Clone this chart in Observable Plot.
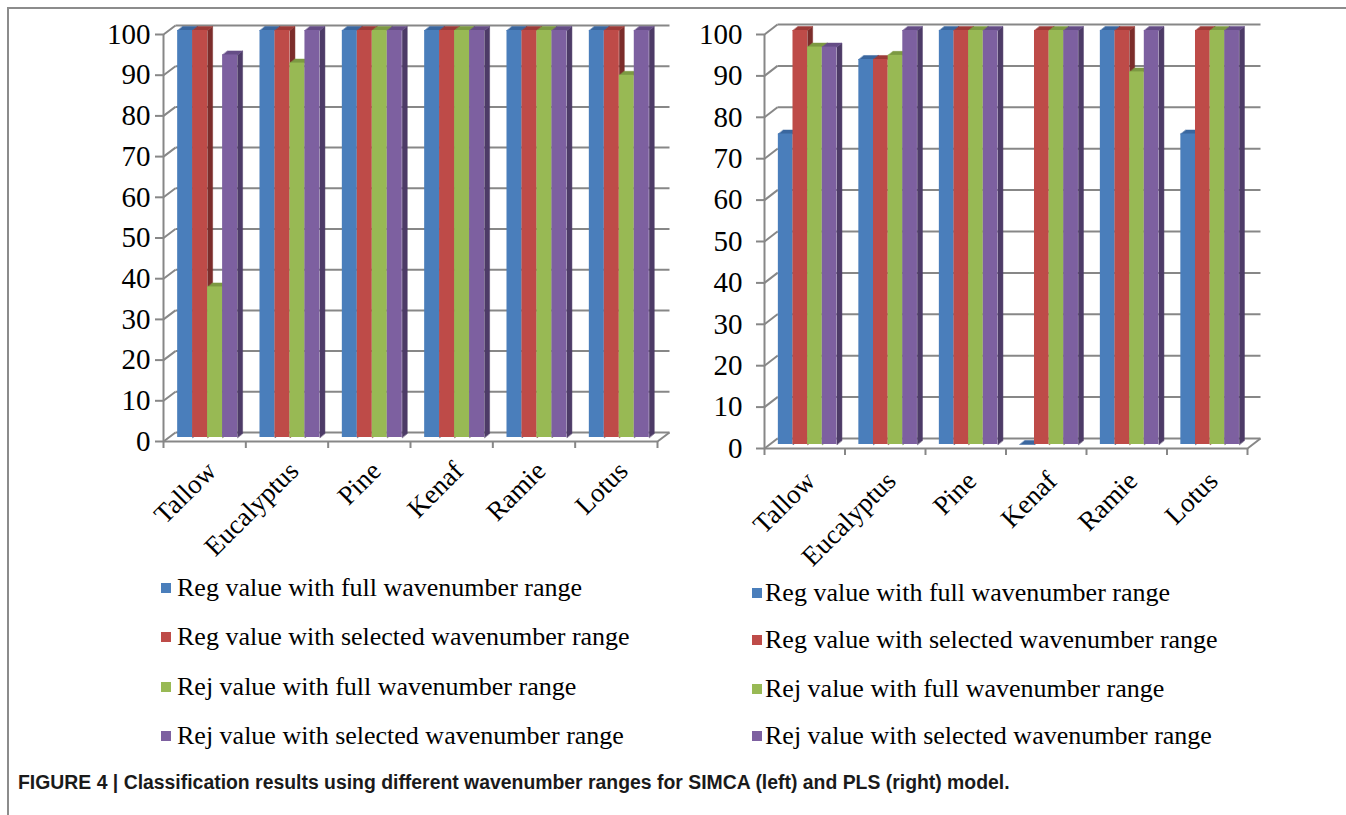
<!DOCTYPE html>
<html><head><meta charset="utf-8">
<script src="https://cdn.jsdelivr.net/npm/d3@7"></script>
<script src="https://cdn.jsdelivr.net/npm/@observablehq/plot@0.6"></script>
<style>
html,body{margin:0;padding:0;background:#fff;}
body{width:1346px;height:815px;overflow:hidden;position:relative;font-family:"Liberation Serif","Times New Roman",serif;}
#frame{position:absolute;left:7px;top:7px;width:1339px;height:808px;border-left:2px solid #8c8c8c;border-top:2px solid #8c8c8c;box-sizing:border-box;}
#left{position:absolute;left:0;top:0;}
#right{position:absolute;left:680px;top:0;}
.row{position:absolute;white-space:nowrap;display:flex;align-items:center;font-size:26px;line-height:26px;height:26px;color:#000;}
.sw{display:inline-block;width:10px;height:10px;margin-right:6px;}
#caption{position:absolute;left:18px;top:772px;font-family:"Liberation Sans",Arial,sans-serif;font-weight:bold;font-size:19.4px;line-height:20px;color:#1a1a1a;white-space:nowrap;}
svg [aria-label^="y-axis"] line, svg [aria-label^="y-axis"] path, svg [aria-label^="x-axis"] line, svg [aria-label^="x-axis"] path{stroke:#878787;stroke-width:2px;}
svg text{font-family:"Liberation Serif","Times New Roman",serif !important;}
svg [aria-label^="y-axis"] text{font-size:29px !important;fill:#000;}
</style>
</head><body>
<div id="frame"></div>
<div id="left"></div>
<div id="right"></div>
<div id="legendL"></div>
<div id="legendR"></div>
<div id="caption">FIGURE 4 | Classification results using different wavenumber ranges for SIMCA (left) and PLS (right) model.</div>
<script>
// ---- data ----
const categories = ["Tallow", "Eucalyptus", "Pine", "Kenaf", "Ramie", "Lotus"];
const seriesNames = [
  "Reg value with full wavenumber range",
  "Reg value with selected wavenumber range",
  "Rej value with full wavenumber range",
  "Rej value with selected wavenumber range"
];
// SIMCA (left)
const simcaRegFull = [100, 100, 100, 100, 100, 100];
const simcaRegSel  = [100, 100, 100, 100, 100, 100];
const simcaRejFull = [37, 92, 100, 100, 100, 89];
const simcaRejSel  = [94, 100, 100, 100, 100, 100];
// PLS (right)
const plsRegFull = [75, 93, 100, 0, 100, 75];
const plsRegSel  = [100, 93, 100, 100, 100, 100];
const plsRejFull = [96, 94, 100, 100, 90, 100];
const plsRejSel  = [96, 100, 100, 100, 100, 100];
const yTicks = [0, 10, 20, 30, 40, 50, 60, 70, 80, 90, 100];

// ---- styles ----
const frontColors = ["#4a7ebb", "#be4b48", "#98b954", "#7d60a0"];
const topColors   = ["#3a679f", "#9c3b38", "#7c9942", "#654d86"];
const sideColors  = ["#2c4f7c", "#7c2d2b", "#5d7532", "#4d3b67"];
const gridColor = "#878787";

function panel({width, height, ml, mr, mt, mb, wallX, wallY, series, labelDx, labelDy, tickPadding}) {
  const n = categories.length;
  const kx = (width - ml - mr) / n;      // px per category unit
  const ky = (height - mt - mb) / 100;   // px per value unit
  const wX = wallX / kx, wY = wallY / ky; // wall depth in data units
  const bX = 5 / kx, bY = 4 / ky;         // bar depth in data units
  const off = 0.172, bw = 0.182;
  const rows = [];
  categories.forEach((c, i) => series.forEach((vals, j) => {
    const x1 = i + off + j * bw;
    rows.push({cat: c, j, x1, x2: x1 + bw, v: vals[i]});
  }));
  const sides = [], tops = [];
  rows.forEach((r, k) => {
    const sc = sideColors[r.j], tc = topColors[r.j];
    sides.push({id: k, x: r.x2, y: 0, c: sc}, {id: k, x: r.x2, y: r.v, c: sc},
               {id: k, x: r.x2 + bX, y: r.v + bY, c: sc}, {id: k, x: r.x2 + bX, y: bY, c: sc});
    tops.push({id: k, x: r.x1, y: r.v, c: tc}, {id: k, x: r.x2, y: r.v, c: tc},
              {id: k, x: r.x2 + bX, y: r.v + bY, c: tc}, {id: k, x: r.x1 + bX, y: r.v + bY, c: tc});
  });
  const catIdx = categories.map((c, i) => ({c, x: i + 0.5}));
  const bounds = d3.range(n + 1);
  return Plot.plot({
    width, height, marginLeft: ml, marginRight: mr, marginTop: mt, marginBottom: mb,
    style: {fontFamily: "'Liberation Serif','Times New Roman',serif", fontSize: "29px", background: "transparent", color: "#000", overflow: "visible"},
    x: {type: "linear", domain: [0, n], ticks: bounds, tickFormat: () => "", tickSize: 7, label: null},
    y: {domain: [0, 100], ticks: yTicks, tickSize: 8, tickPadding, label: null},
    color: {type: "identity"},
    marks: [
      // back wall gridlines
      Plot.link(yTicks, {x1: wX, x2: n + wX, y1: d => d + wY, y2: d => d + wY, stroke: gridColor, strokeWidth: 2}),
      // side wall diagonals
      Plot.link(yTicks, {x1: 0, x2: wX, y1: d => d, y2: d => d + wY, stroke: gridColor, strokeWidth: 2}),
      // floor right diagonal
      Plot.link([0], {x1: n, x2: n + wX, y1: 0, y2: wY, stroke: gridColor, strokeWidth: 2}),
      // front axes
      Plot.ruleX([0], {stroke: gridColor, strokeWidth: 2}),
      Plot.ruleY([0], {stroke: gridColor, strokeWidth: 2}),
      // bars (3D look)
      Plot.line(sides, {x: "x", y: "y", z: "id", fill: "c", stroke: "c", strokeWidth: 0.5, curve: "linear-closed", dy: -4}),
      Plot.line(tops, {x: "x", y: "y", z: "id", fill: "c", stroke: "c", strokeWidth: 0.5, curve: "linear-closed", dy: -4}),
      Plot.rect(rows, {x1: "x1", x2: "x2", y1: 0, y2: "v", fill: d => frontColors[d.j], dy: -4}),
      // category labels
      Plot.text(catIdx, {x: "x", y: 0, text: "c", rotate: -45, textAnchor: "end", dx: labelDx, dy: labelDy, fontSize: 27, fill: "#000"})
    ]
  });
}

document.getElementById("left").append(panel({
  width: 680, height: 570, ml: 163, mr: 23, mt: 34, mb: 129, wallX: 12, wallY: 9,
  series: [simcaRegFull, simcaRegSel, simcaRejFull, simcaRejSel], labelDx: 7, labelDy: 25, tickPadding: 5
}));
document.getElementById("right").append(panel({
  width: 666, height: 570, ml: 84, mr: 99, mt: 34, mb: 122, wallX: 13, wallY: 10,
  series: [plsRegFull, plsRegSel, plsRejFull, plsRejSel], labelDx: 6, labelDy: 28, tickPadding: 14
}));

function legend(el, x, ys, gap) {
  seriesNames.forEach((s, j) => {
    const row = document.createElement("div");
    row.className = "row";
    row.style.left = x + "px";
    row.style.top = (ys[j] - 13) + "px";
    const sw = document.createElement("span");
    sw.className = "sw";
    sw.style.background = frontColors[j];
    sw.style.marginRight = gap + "px";
    row.append(sw, document.createTextNode(s));
    el.append(row);
  });
}
legend(document.getElementById("legendL"), 161, [588, 637, 687, 736], 6);
legend(document.getElementById("legendR"), 752, [593, 640, 689, 736], 3);
</script>
</body></html>
